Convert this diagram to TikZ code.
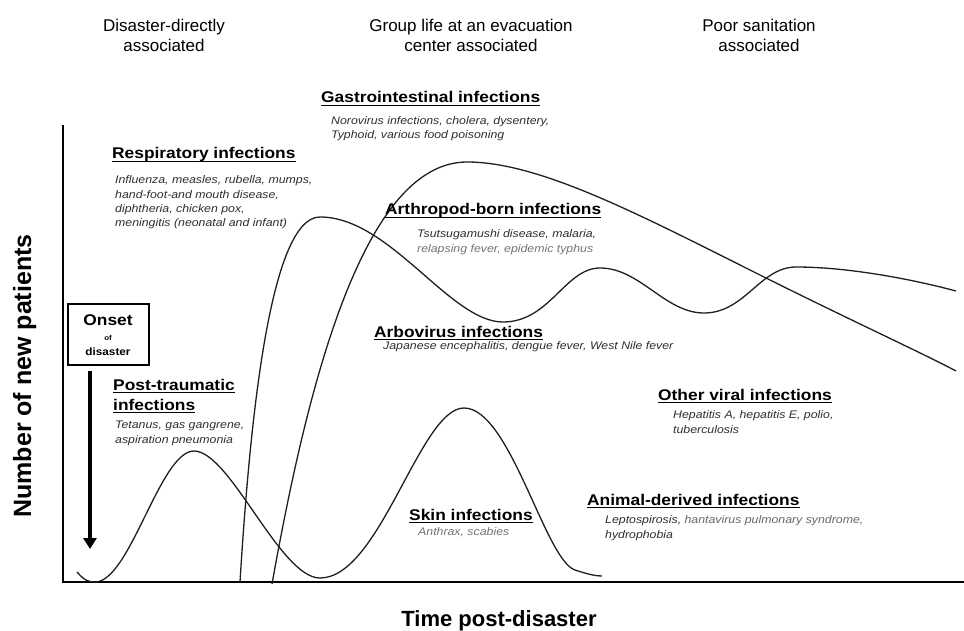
\documentclass[tikz,border=0pt]{standalone}
\usepackage{fontspec}
\setmainfont{Liberation Sans}
\newfontfamily\lbl{Liberation Sans}[FakeStretch=1.12]
\usetikzlibrary{arrows.meta}
\begin{document}
\begin{tikzpicture}[x=1pt,y=-1pt,
  hdr/.style={font=\fontsize{17}{20.5}\selectfont, align=center, inner sep=0, anchor=base},
  ttl/.style={font=\lbl\bfseries\fontsize{15.5}{18}\selectfont, inner sep=0, anchor=base west},
  sub/.style={font=\lbl\itshape\fontsize{11}{14.5}\selectfont, inner sep=0, anchor=base west, align=left, text=black!82},
  grey/.style={text=black!55},
  curve/.style={line width=1.3pt, black!88},
  ulin/.style={line width=1.7pt},
  axis/.style={line width=1.5pt}]
\useasboundingbox (0,0) rectangle (964,631);
% headers (base anchor = baseline of the last line)
\node[hdr] (h1) at (164,52) {Disaster-directly\\associated};
\node[hdr] (h2) at (471,52) {Group life at an evacuation\\center associated};
\node[hdr] (h3) at (759,52) {Poor sanitation\\associated};
% axes
\coordinate (ytop) at (63,125);
\coordinate (orig) at (63,582);
\coordinate (xend) at (964,582);
\draw[axis] (ytop) -- (orig) -- (xend);
\node[rotate=90, anchor=base, inner sep=0, font=\bfseries\fontsize{25}{30}\selectfont] (ylab) at (31,376) {Number of new patients};
\node[anchor=base, inner sep=0, font=\bfseries\fontsize{22}{26}\selectfont] (xlab) at (499,626) {Time post-disaster};
% curves
\draw[curve] (77,572) .. controls (84,580) and (88,582) .. (95,582)
  .. controls (130,582) and (160,451) .. (194,451)
  .. controls (230,451) and (280,578) .. (320,578)
  .. controls (380,578) and (420,408) .. (464,408)
  .. controls (510,408) and (545,560) .. (575,570)
  .. controls (590,575) and (597,576) .. (602,576);
\draw[curve] (240,582) .. controls (250,420) and (270,217) .. (320,217)
  .. controls (390,217) and (450,322) .. (503,322)
  .. controls (550,322) and (565,268) .. (600,268)
  .. controls (640,268) and (665,313) .. (704,313)
  .. controls (745,313) and (760,267) .. (796,267)
  .. controls (850,267) and (915,280) .. (956,291);
\draw[curve] (272,584) .. controls (305,400) and (360,162) .. (467,162)
  .. controls (540,162) and (640,215) .. (760,275)
  .. controls (850,320) and (920,352) .. (956,371);
% onset box and arrow
\node[draw, line width=1.2pt, minimum width=81pt, minimum height=61pt, inner sep=0] (onset) at (108.5,334.5) {};
\node[anchor=base, inner sep=0, font=\lbl\bfseries\fontsize{15.5}{18}\selectfont] (on1) at (108,325) {Onset};
\node[anchor=base, inner sep=0, font=\lbl\bfseries\fontsize{7}{8}\selectfont] (on2) at (108,340) {of};
\node[anchor=base, inner sep=0, font=\lbl\bfseries\fontsize{10.5}{12}\selectfont] (on3) at (108,355) {disaster};
\coordinate (atip) at (90,549);
\draw[line width=4pt, -{Triangle[length=11pt,width=13pt]}] (onset.south -| atip) ++(0,5) -- (atip);
% labels
\node[ttl] (gi) at (321,103) {Gastrointestinal infections};
\node[sub] (gis) at (331,139) {Norovirus infections, cholera, dysentery,\\Typhoid, various food poisoning};
\node[ttl] (re) at (112,159) {Respiratory infections};
\node[sub] (res) at (115,227) {Influenza, measles, rubella, mumps,\\hand-foot-and mouth disease,\\diphtheria, chicken pox,\\meningitis (neonatal and infant)};
\node[ttl] (ar) at (385,215) {Arthropod-born infections};
\node[sub] (ars1) at (417,237) {Tsutsugamushi disease, malaria,};
\node[sub, grey] (ars2) at (417,253) {relapsing fever, epidemic typhus};
\node[ttl] (ab) at (374,337) {Arbovirus infections};
\node[sub] (abs) at (383,349) {Japanese encephalitis, dengue fever, West Nile fever};
\node[ttl] (pt1) at (113,390) {Post-traumatic};
\node[ttl] (pt2) at (113,410) {infections};
\node[sub] (pts) at (115,443) {Tetanus, gas gangrene,\\aspiration pneumonia};
\node[ttl] (ov) at (658,400) {Other viral infections};
\node[sub] (ovs) at (673,433) {Hepatitis A, hepatitis E, polio,\\tuberculosis};
\node[ttl] (an) at (587,505) {Animal-derived infections};
\node[sub] (ans) at (605,538) {Leptospirosis, {\color{black!60}hantavirus pulmonary syndrome,}\\hydrophobia};
\node[ttl] (sk) at (409,520) {Skin infections};
\node[sub, grey] (sks) at (418,535) {Anthrax, scabies};
% underlines
\foreach \n in {gi,re,ar,ab,pt1,pt2,ov,an,sk}
  \draw[ulin] ([yshift=-2.6pt]\n.base west) -- ([yshift=-2.6pt]\n.base east);
\end{tikzpicture}
\end{document}
